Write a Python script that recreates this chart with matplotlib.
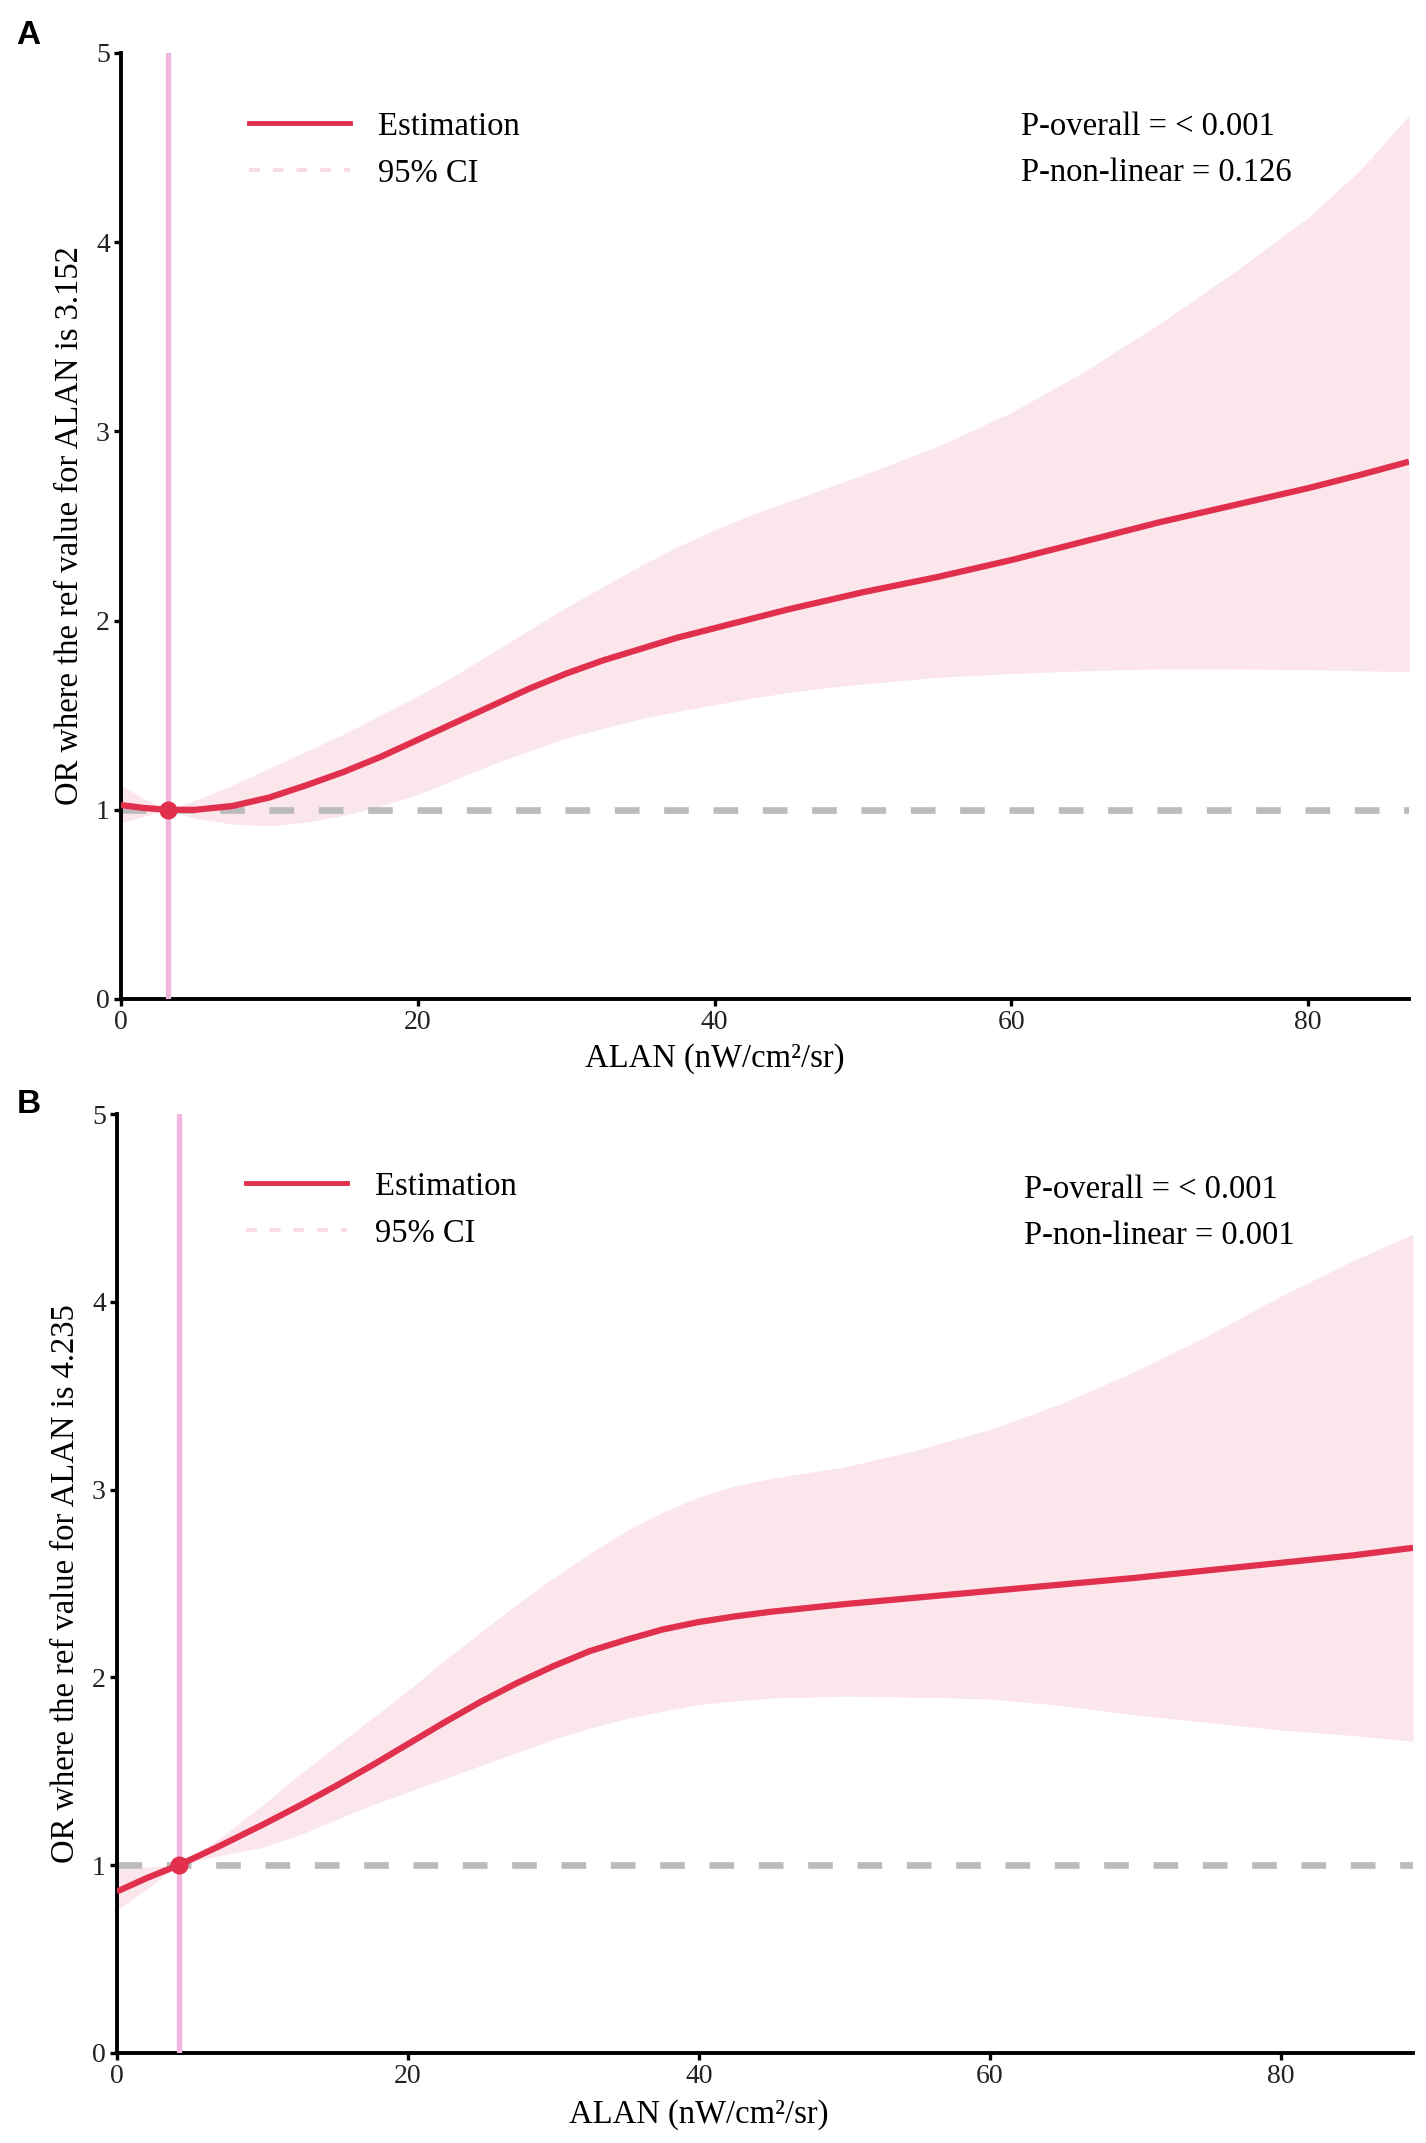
import matplotlib
matplotlib.use("Agg")
import matplotlib.pyplot as plt
from matplotlib.lines import Line2D

plt.rcParams["font.family"] = ["Liberation Serif", "DejaVu Serif"]

# ---- panel A: ref ALAN = 3.152 ----
a_ref = 3.152
a_x   = [0, 1.5, 3.152, 5, 7.5, 10, 12.5, 15, 17.5, 20, 22.5, 25, 27.5, 30, 32.5, 35, 37.5, 40,
         42.5, 45, 47.5, 50, 55, 60, 65, 70, 75, 80, 83.5, 86.8]
a_est = [1.025, 1.01, 1.0, 1.0, 1.02, 1.065, 1.13, 1.2, 1.28, 1.37, 1.46, 1.55, 1.64, 1.72, 1.79, 1.85,
         1.91, 1.96, 2.01, 2.06, 2.105, 2.15, 2.23, 2.32, 2.42, 2.52, 2.61, 2.70, 2.77, 2.84]
a_hi  = [1.13, 1.06, 1.0, 1.05, 1.13, 1.22, 1.31, 1.40, 1.50, 1.60, 1.71, 1.83, 1.95, 2.07, 2.18, 2.29,
         2.39, 2.48, 2.56, 2.63, 2.70, 2.77, 2.92, 3.10, 3.32, 3.57, 3.84, 4.13, 4.38, 4.67]
a_lo  = [0.93, 0.965, 1.0, 0.955, 0.925, 0.915, 0.935, 0.97, 1.02, 1.08, 1.16, 1.24, 1.31, 1.38, 1.43, 1.48,
         1.52, 1.555, 1.59, 1.62, 1.645, 1.665, 1.70, 1.72, 1.735, 1.745, 1.745, 1.74, 1.735, 1.73]
a_p   = ["P-overall = < 0.001", "P-non-linear = 0.126"]

# ---- panel B: ref ALAN = 4.235 ----
b_ref = 4.235
b_x   = [0, 2, 4.235, 7, 10, 12.5, 15, 17.5, 20, 22.5, 25, 27.5, 30, 32.5, 35, 37.5, 40, 42.5, 45,
         50, 55, 60, 65, 70, 75, 80, 85, 89.1]
b_est = [0.86, 0.93, 1.0, 1.10, 1.215, 1.315, 1.42, 1.53, 1.645, 1.76, 1.87, 1.97, 2.06, 2.14, 2.20,
         2.255, 2.295, 2.325, 2.35, 2.39, 2.425, 2.46, 2.495, 2.53, 2.57, 2.61, 2.65, 2.69]
b_hi  = [0.99, 0.99, 1.0, 1.14, 1.32, 1.48, 1.63, 1.78, 1.93, 2.09, 2.24, 2.39, 2.53, 2.66, 2.78,
         2.88, 2.96, 3.02, 3.06, 3.12, 3.21, 3.32, 3.46, 3.63, 3.82, 4.03, 4.22, 4.36]
b_lo  = [0.76, 0.87, 1.0, 1.05, 1.095, 1.16, 1.24, 1.32, 1.39, 1.46, 1.53, 1.60, 1.67, 1.73, 1.78,
         1.82, 1.855, 1.875, 1.89, 1.90, 1.895, 1.885, 1.85, 1.80, 1.76, 1.72, 1.69, 1.66]
b_p   = ["P-overall = < 0.001", "P-non-linear = 0.001"]

RED, BAND, PINK, GREY = "#E0304E", "#FBE6EB", "#F0B6DD", "#BBBBBB"
W, H = 1426, 2143


def panel(ax, x, est, lo, hi, ref, xmax, ptxt, letter, letter_xy, ptxt_xy, leg_xy, xlab_off):
    ax.fill_between(x, lo, hi, color=BAND, lw=0, zorder=1)
    ax.axhline(1, color=GREY, lw=4.8, dashes=(3.7, 3.7), zorder=2)
    ax.axvline(ref, color=PINK, lw=3.8, zorder=3)
    ax.plot(x, est, color=RED, lw=4.5, solid_capstyle="butt", solid_joinstyle="round", zorder=4)
    ax.plot([ref], [1], "o", color=RED, ms=12, zorder=5)
    ax.set_xlim(0, xmax); ax.set_ylim(0, 5)
    ax.set_xticks([0, 20, 40, 60, 80]); ax.set_yticks(range(6))
    for s in ("top", "right"):
        ax.spines[s].set_visible(False)
    for s in ("left", "bottom"):
        ax.spines[s].set_linewidth(2.8)
    ax.tick_params(width=2.4, length=5, labelsize=20, labelcolor="#222222", pad=3)
    ax.set_xlabel("ALAN (nW/cm²/sr)", fontsize=23.5)
    # label sits centred under x = 40 in the original
    h_px = ax.get_position().height * H
    ax.xaxis.set_label_coords(40 / xmax, -xlab_off / h_px)
    ax.set_ylabel(f"OR where the ref value for ALAN is {ref}", fontsize=23.5, labelpad=8)
    handles = [Line2D([], [], color=RED, lw=3.5),
               Line2D([], [], color="#F9DDE3", lw=3, dashes=(2.6, 3.1))]
    ax.legend(handles, ["Estimation", "95% CI"], loc="center left", frameon=False,
              bbox_to_anchor=(leg_xy[0] / W, 1 - leg_xy[1] / H), bbox_transform=fig.transFigure,
              fontsize=23.5, handlelength=3.1, handletextpad=0.85, labelspacing=0.5,
              borderpad=0, borderaxespad=0)
    for i, t in enumerate(ptxt):
        fig.text(ptxt_xy[0] / W, 1 - (ptxt_xy[1] + 46 * i) / H, t, fontsize=23.5, va="center")
    fig.text(letter_xy[0] / W, 1 - letter_xy[1] / H, letter, fontsize=24, fontweight="bold",
             family="Liberation Sans", va="top")


fig = plt.figure(figsize=(W / 100, H / 100), dpi=100)
axA = fig.add_axes([121 / W, 1 - 999 / H, (1409 - 121) / W, (999 - 53) / H])
axB = fig.add_axes([117 / W, 1 - 2053 / H, (1413 - 117) / W, (2053 - 1114) / H])

panel(axA, a_x, a_est, a_lo, a_hi, a_ref, 86.8, a_p, "A", (16, 20), (1021, 127), (249, 150), 44)
panel(axB, b_x, b_est, b_lo, b_hi, b_ref, 89.1, b_p, "B", (17, 1089), (1024, 1190), (246, 1210), 46)

fig.savefig("out.png", dpi=100, facecolor="white")
